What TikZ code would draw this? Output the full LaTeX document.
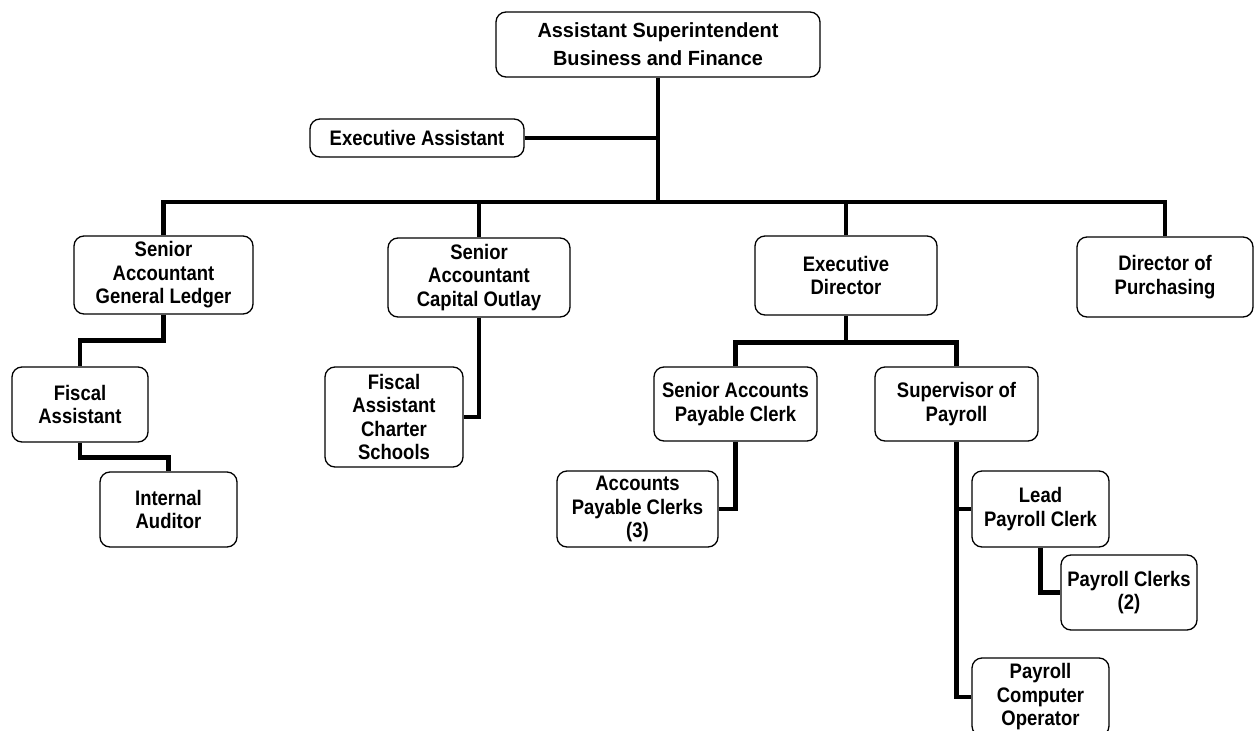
\documentclass[tikz,border=0pt]{standalone}
\usepackage{fontspec}
\setmainfont{Liberation Sans}
\newfontfamily\narrowsans[FakeStretch=0.88]{Liberation Sans}
\newfontfamily\headsans[FakeStretch=0.97]{Liberation Sans}
\begin{document}
\begin{tikzpicture}[x=1pt,y=-1pt,
  box/.style={draw=black,line width=1.3pt,rounded corners=10pt,inner sep=0pt,
    align=center,fill=white,font=\narrowsans\fontsize{21}{23.5}\selectfont\bfseries},
  topbox/.style={box,font=\headsans\fontsize{20.5}{28}\selectfont\bfseries},
  conn/.style={line width=4.5pt,line join=miter}]
\clip (0,0) rectangle (1254,731);
\fill[white] (0,0) rectangle (1254,731);
\coordinate (busy) at (0,202);
% top level
\node[topbox,minimum width=324pt,minimum height=65pt] (top) at (658,44.5) {Assistant Superintendent\\Business and Finance};
\node[box,minimum width=214pt,minimum height=38pt] (ea) at (417,138) {Executive Assistant};
% second level
\node[box,minimum width=179pt,minimum height=78pt] (sagl) at (163.5,275) {Senior\\Accountant\\General Ledger};
\node[box,minimum width=182pt,minimum height=79pt] (saco) at (479,277.5) {Senior\\Accountant\\Capital Outlay};
\node[box,minimum width=182pt,minimum height=79pt] (ed) at (846,275.5) {Executive\\Director};
\node[box,minimum width=176pt,minimum height=80pt] (dop) at (1165,277) {Director of\\Purchasing};
% lower levels
\node[box,minimum width=136pt,minimum height=75pt] (fa) at (80,404.5) {Fiscal\\Assistant};
\node[box,minimum width=137pt,minimum height=75pt] (ia) at (168.5,509.5) {Internal\\Auditor};
\node[box,minimum width=138pt,minimum height=100pt] (facs) at (394,417) {Fiscal\\Assistant\\Charter\\Schools};
\node[box,minimum width=163pt,minimum height=74pt] (sapc) at (735.5,404) {Senior Accounts\\Payable Clerk};
\node[box,minimum width=163pt,minimum height=74pt] (sop) at (956.5,404) {Supervisor of\\Payroll};
\node[box,minimum width=161pt,minimum height=76pt] (apc) at (637.5,509) {Accounts\\Payable Clerks\\(3)};
\node[box,minimum width=137pt,minimum height=76pt] (lpc) at (1040.5,509) {Lead\\Payroll Clerk};
\node[box,minimum width=136pt,minimum height=75pt] (pc) at (1129,592.5) {Payroll Clerks\\(2)};
\node[box,minimum width=137pt,minimum height=78pt] (pco) at (1040.5,697) {Payroll\\Computer\\Operator};
% connectors
\draw[conn] (top.south) -- (top.south |- busy);
\draw[conn] (ea.east) -- (top.south |- ea.east);
\draw[conn] (sagl.north) |- (dop.north |- busy) -- (dop.north);
\draw[conn] (saco.north |- busy) -- (saco.north);
\draw[conn] (ed.north |- busy) -- (ed.north);
\draw[conn] (sagl.south) -- ++(0,26) -| (fa.north);
\draw[conn] (fa.south) -- ++(0,15) -| (ia.north);
\draw[conn] (saco.south) |- (facs.east);
\draw[conn] (ed.south) -- ++(0,27) coordinate (edj);
\draw[conn] (sapc.north) |- (sop.north |- edj) -- (sop.north);
\draw[conn] (sapc.south) |- (apc.east);
\draw[conn] (sop.south) |- (pco.west);
\draw[conn] (sop.south |- lpc.west) -- (lpc.west);
\draw[conn] (lpc.south) |- (pc.west);
\end{tikzpicture}
\end{document}
